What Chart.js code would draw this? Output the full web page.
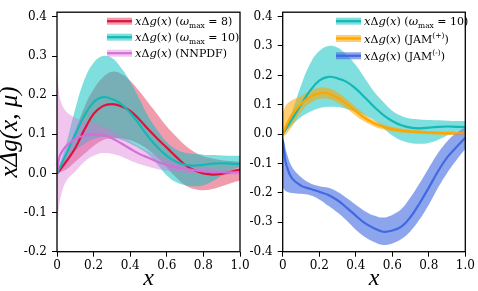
<!DOCTYPE html>
<html>
<head>
<meta charset="utf-8">
<script src="https://cdn.jsdelivr.net/npm/chart.js@4"></script>
<style>
  html, body { margin: 0; padding: 0; background: #fff; }
  #wrap { position: relative; width: 478px; height: 291px; background: #fff; overflow: hidden; }
  canvas { position: absolute; top: 0; }
</style>
</head>
<body>
<div id="wrap">
  <canvas id="cL" width="262" height="291" style="left:0px"></canvas>
  <canvas id="cR" width="233" height="291" style="left:245px"></canvas>
</div>
<script>
// ---- data ----
const xs = [0, 0.01, 0.02, 0.05, 0.1, 0.15, 0.2, 0.25, 0.3, 0.35, 0.4, 0.45, 0.5, 0.55, 0.6, 0.65, 0.7, 0.75, 0.8, 0.85, 0.9, 0.95, 1.0];

// omega_max = 8
const w8Mid = [0, 0.005, 0.011, 0.03, 0.065, 0.112, 0.152, 0.172, 0.177, 0.172, 0.16, 0.138, 0.112, 0.088, 0.066, 0.043, 0.022, 0.008, 0.0, -0.003, -0.001, 0.004, 0.01];
const w8Up  = [0, 0.01, 0.02, 0.05, 0.11, 0.17, 0.215, 0.245, 0.26, 0.255, 0.237, 0.21, 0.18, 0.15, 0.12, 0.095, 0.072, 0.055, 0.044, 0.038, 0.034, 0.032, 0.03];
const w8Lo  = [0, 0.002, 0.004, 0.01, 0.03, 0.05, 0.07, 0.085, 0.09, 0.09, 0.085, 0.075, 0.06, 0.04, 0.015, -0.01, -0.03, -0.04, -0.043, -0.04, -0.033, -0.025, -0.018];

// omega_max = 10
const w10Mid = [0, 0.01, 0.02, 0.05, 0.1, 0.148, 0.182, 0.195, 0.19, 0.178, 0.155, 0.125, 0.093, 0.066, 0.045, 0.03, 0.022, 0.02, 0.022, 0.025, 0.026, 0.025, 0.024];
const w10Up  = [0, 0.015, 0.03, 0.075, 0.165, 0.24, 0.283, 0.3, 0.295, 0.27, 0.235, 0.19, 0.145, 0.11, 0.08, 0.062, 0.053, 0.05, 0.048, 0.047, 0.046, 0.045, 0.045];
const w10Lo  = [0, 0.006, 0.012, 0.03, 0.058, 0.076, 0.088, 0.093, 0.092, 0.086, 0.076, 0.064, 0.048, 0.022, -0.005, -0.022, -0.03, -0.033, -0.03, -0.02, -0.005, 0.008, 0.017];

// NNPDF
const nnMid = [0, 0.035, 0.05, 0.07, 0.088, 0.097, 0.1, 0.098, 0.09, 0.077, 0.063, 0.05, 0.04, 0.03, 0.022, 0.016, 0.012, 0.008, 0.005, 0.004, 0.003, 0.003, 0.003];
const nnUp  = [0.26, 0.21, 0.185, 0.158, 0.142, 0.134, 0.128, 0.12, 0.11, 0.096, 0.082, 0.068, 0.056, 0.045, 0.036, 0.03, 0.025, 0.02, 0.016, 0.013, 0.011, 0.01, 0.01];
const nnLo  = [-0.14, -0.09, -0.06, -0.02, 0.005, 0.03, 0.045, 0.052, 0.05, 0.043, 0.033, 0.024, 0.017, 0.011, 0.007, 0.004, 0.002, 0.0, -0.002, -0.002, -0.003, -0.003, -0.004];

// JAM(+)
const jpMid = [0, 0.015, 0.03, 0.065, 0.103, 0.127, 0.139, 0.138, 0.124, 0.103, 0.078, 0.055, 0.037, 0.025, 0.017, 0.012, 0.009, 0.007, 0.005, 0.004, 0.003, 0.003, 0.003];
const jpUp  = [0.07, 0.088, 0.1, 0.115, 0.13, 0.148, 0.158, 0.157, 0.143, 0.12, 0.093, 0.068, 0.048, 0.034, 0.025, 0.019, 0.015, 0.013, 0.011, 0.01, 0.009, 0.009, 0.009];
const jpLo  = [-0.01, -0.005, 0.0, 0.025, 0.075, 0.105, 0.12, 0.12, 0.107, 0.087, 0.063, 0.042, 0.026, 0.016, 0.009, 0.005, 0.003, 0.001, 0.0, -0.002, -0.003, -0.003, -0.003];

// JAM(-)
const jmMid = [-0.02, -0.07, -0.105, -0.15, -0.175, -0.186, -0.196, -0.207, -0.225, -0.25, -0.277, -0.303, -0.32, -0.332, -0.328, -0.315, -0.282, -0.235, -0.182, -0.127, -0.08, -0.045, -0.012];
const jmUp  = [0.0, -0.03, -0.06, -0.11, -0.146, -0.167, -0.177, -0.182, -0.196, -0.217, -0.24, -0.262, -0.277, -0.284, -0.275, -0.255, -0.215, -0.167, -0.115, -0.065, -0.025, 0.005, 0.022];
const jmLo  = [-0.18, -0.19, -0.195, -0.2, -0.203, -0.208, -0.222, -0.244, -0.267, -0.294, -0.325, -0.35, -0.367, -0.377, -0.372, -0.357, -0.33, -0.29, -0.24, -0.183, -0.133, -0.09, -0.05];

const xTicks = [0, 0.2, 0.4, 0.6, 0.8, 1.0];
const xTickLabels = ["0", "0.2", "0.4", "0.6", "0.8", "1.0"];
const yTicksL = [-0.2, -0.1, 0.0, 0.1, 0.2, 0.3, 0.4];
const yTicksR = [-0.4, -0.3, -0.2, -0.1, 0.0, 0.1, 0.2, 0.3, 0.4];

// legend labels: [text, style]  i = math italic, r = roman, sub / sup
const lblW8  = [["x","i"],["Δ","r"],["g","i"],["(","r"],["x","i"],[")","r"],[" (","r"],["ω","i"],["max","sub"],[" = 8)","r"]];
const lblW10 = [["x","i"],["Δ","r"],["g","i"],["(","r"],["x","i"],[")","r"],[" (","r"],["ω","i"],["max","sub"],[" = 10)","r"]];
const lblNN  = [["x","i"],["Δ","r"],["g","i"],["(","r"],["x","i"],[")","r"],[" (NNPDF)","r"]];
const lblJP  = [["x","i"],["Δ","r"],["g","i"],["(","r"],["x","i"],[")","r"],[" (JAM","r"],["(+)","sup"],[")","r"]];
const lblJM  = [["x","i"],["Δ","r"],["g","i"],["(","r"],["x","i"],[")","r"],[" (JAM","r"],["(-)","sup"],[")","r"]];

const RED = "#dc143c", RED_B = "rgba(220,20,60,0.42)";
const TEAL = "#14b8b4", TEAL_B = "rgba(0,191,191,0.5)";
const ORCH = "#d36fd8", ORCH_B = "rgba(218,112,214,0.4)";
const ORNG = "#ffa500", ORNG_B = "rgba(255,165,0,0.55)";
const BLUE = "#4169e1", BLUE_B = "rgba(65,105,225,0.6)";

const TENSION = 0.4;
const pts = (arr) => arr.map((v, i) => ({ x: xs[i], y: v }));

function lineSet(arr, color){
    return { data: pts(arr), borderColor: color, borderWidth: 2.2, pointRadius: 0, fill: false, tension: TENSION };
}
function bandSets(up, lo, color){
    return [
        { data: pts(up), borderWidth: 0, borderColor: "rgba(0,0,0,0)", pointRadius: 0, fill: false, tension: TENSION },
        { data: pts(lo), borderWidth: 0, borderColor: "rgba(0,0,0,0)", pointRadius: 0, fill: "-1", backgroundColor: color, tension: TENSION }
    ];
}

/* =========================================================
   plugins: box around the axes + legend with band swatches
========================================================= */
const boxPlugin = {
    id: "box",
    afterDraw(chart){
        const { ctx, chartArea: a } = chart;
        ctx.save();
        ctx.strokeStyle = "#000";
        ctx.lineWidth = 1.3;
        ctx.strokeRect(a.left, a.top, a.right - a.left, a.bottom - a.top);
        ctx.restore();
    }
};

const bandLegend = {
    id: "bandLegend",
    afterDraw(chart, args, opts){
        if(!opts.items) return;
        const { ctx, chartArea: a } = chart;
        opts.items.forEach((it, i) => {
            const x = a.left + opts.left;
            const y = a.top + opts.top + i * opts.rowH;
            ctx.save();
            ctx.fillStyle = it.band;
            ctx.fillRect(x, y - 3.5, 25, 7);
            ctx.strokeStyle = it.line;
            ctx.lineWidth = 2.2;
            ctx.beginPath();
            ctx.moveTo(x, y);
            ctx.lineTo(x + 25, y);
            ctx.stroke();
            let tx = x + 28;
            ctx.fillStyle = "#000";
            ctx.textBaseline = "alphabetic";
            const base = y + 4;
            it.parts.forEach(([t, s]) => {
                let dy = 0;
                if(s === "i") ctx.font = "italic 11.5px 'DejaVu Serif'";
                else if(s === "sub"){ ctx.font = "7.5px 'DejaVu Serif'"; dy = 2.5; }
                else if(s === "sup"){ ctx.font = "7.5px 'DejaVu Serif'"; dy = -5; }
                else ctx.font = "11px 'DejaVu Serif'";
                ctx.fillText(t, tx, base + dy);
                tx += ctx.measureText(t).width;
            });
            ctx.restore();
        });
    }
};

function makeScales(yMin, yMax, yTicks, yWidth, showYTitle){
    const tickFont = { family: "DejaVu Serif", size: 12 };
    return {
        x: {
            type: "linear", min: 0, max: 1,
            afterBuildTicks: (ax) => { ax.ticks = xTicks.map(v => ({ value: v })); },
            afterFit: (ax) => { ax.height = 39.3; },
            ticks: {
                color: "#000", font: tickFont, padding: 2, maxRotation: 0,
                callback: (v, i) => xTickLabels[i]
            },
            grid: { display: true, drawOnChartArea: false, drawTicks: true, tickLength: 5, color: "#000", lineWidth: 1 },
            border: { display: false },
            title: { display: true, text: "x", color: "#000",
                     font: { family: "Liberation Serif", style: "italic", size: 24, lineHeight: 1 },
                     padding: { top: 0, bottom: 0 } }
        },
        y: {
            min: yMin, max: yMax,
            afterBuildTicks: (ax) => { ax.ticks = yTicks.map(v => ({ value: v })); },
            afterFit: (ax) => { ax.width = yWidth; },
            ticks: {
                color: "#000", font: tickFont, padding: 5,
                callback: (v) => Number(v).toFixed(1)
            },
            grid: { display: true, drawOnChartArea: false, drawTicks: true, tickLength: 5, color: "#000", lineWidth: 1 },
            border: { display: false },
            title: { display: showYTitle, text: "xΔg(x, μ)", color: "#000",
                     font: { family: "Liberation Serif", style: "italic", size: 25, lineHeight: 1 },
                     padding: { top: -2, bottom: 0 } }
        }
    };
}

function baseOptions(pad, scales, legendItems, legendPos){
    return {
        responsive: false,
        animation: false,
        devicePixelRatio: 1,
        layout: { padding: pad },
        scales,
        plugins: {
            legend: { display: false },
            tooltip: { enabled: false },
            filler: { drawTime: "beforeDatasetsDraw" },
            bandLegend: { items: legendItems, left: legendPos.left, top: legendPos.top, rowH: legendPos.rowH }
        }
    };
}

document.addEventListener("DOMContentLoaded", () => {
    // left panel: lines first in the array (drawn last = on top), then bands
    const leftSets = [
        lineSet(nnMid, ORCH),
        lineSet(w10Mid, TEAL),
        lineSet(w8Mid, RED),
        ...bandSets(nnUp, nnLo, ORCH_B),
        ...bandSets(w10Up, w10Lo, TEAL_B),
        ...bandSets(w8Up, w8Lo, RED_B)
    ];
    new Chart(document.getElementById("cL"), {
        type: "line",
        data: { datasets: leftSets },
        options: baseOptions(
            { top: 7, right: 22, bottom: 0, left: 0 },
            makeScales(-0.2, 0.412, yTicksL, 57, true),
            [
                { line: RED, band: RED_B, parts: lblW8 },
                { line: TEAL, band: TEAL_B, parts: lblW10 },
                { line: ORCH, band: ORCH_B, parts: lblNN }
            ],
            { left: 50, top: 9, rowH: 16 }
        ),
        plugins: [boxPlugin, bandLegend]
    });

    const rightSets = [
        lineSet(jmMid, BLUE),
        lineSet(jpMid, ORNG),
        lineSet(w10Mid, TEAL),
        ...bandSets(jmUp, jmLo, BLUE_B),
        ...bandSets(jpUp, jpLo, ORNG_B),
        ...bandSets(w10Up, w10Lo, TEAL_B)
    ];
    new Chart(document.getElementById("cR"), {
        type: "line",
        data: { datasets: rightSets },
        options: baseOptions(
            { top: 7, right: 12.7, bottom: 0, left: 0 },
            makeScales(-0.4, 0.415, yTicksR, 37.7, false),
            [
                { line: TEAL, band: TEAL_B, parts: lblW10 },
                { line: ORNG, band: ORNG_B, parts: lblJP },
                { line: BLUE, band: BLUE_B, parts: lblJM }
            ],
            { left: 53.3, top: 9, rowH: 17.3 }
        ),
        plugins: [boxPlugin, bandLegend]
    });
});
</script>
</body>
</html>
